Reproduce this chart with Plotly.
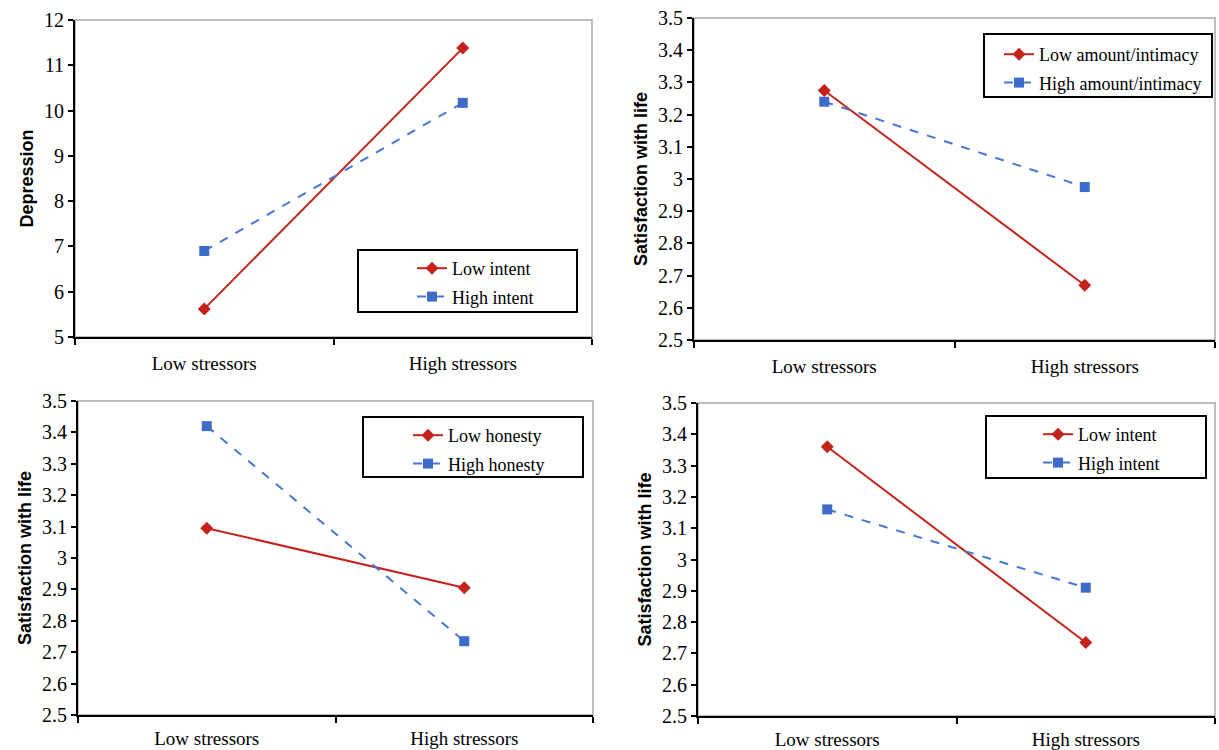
import plotly.graph_objects as go

W, H = 1219, 750

# ---------------- data ----------------
categories = ["Low stressors", "High stressors"]

p1_low_intent = [5.62, 11.38]
p1_high_intent = [6.90, 10.17]

p2_low_amount = [3.275, 2.67]
p2_high_amount = [3.24, 2.975]

p3_low_honesty = [3.095, 2.905]
p3_high_honesty = [3.42, 2.735]

p4_low_intent = [3.36, 2.735]
p4_high_intent = [3.16, 2.91]

dep_ticks = [5, 6, 7, 8, 9, 10, 11, 12]
swl_ticks = [2.5, 2.6, 2.7, 2.8, 2.9, 3.0, 3.1, 3.2, 3.3, 3.4, 3.5]
swl_ticktext = ["2.5", "2.6", "2.7", "2.8", "2.9", "3", "3.1", "3.2", "3.3", "3.4", "3.5"]

# ---------------- styling ----------------
RED = "#C4221B"
BLUE = "#4677D4"
BLUE_M = "#3E6BC8"
SERIF = "Liberation Serif, Times New Roman, serif"
SANS = "Liberation Sans, Arial, sans-serif"

# panel pixel boxes: (left, right, top, bottom)
panels = [
    (75, 592, 20, 337),
    (694, 1215, 18, 340),
    (78, 593, 401, 715),
    (698, 1215, 403, 716),
]

def px_x(v):
    return v / W

def px_y(v):
    return 1 - v / H

series = [
    ("Low intent", p1_low_intent, "High intent", p1_high_intent),
    ("Low amount/intimacy", p2_low_amount, "High amount/intimacy", p2_high_amount),
    ("Low honesty", p3_low_honesty, "High honesty", p3_high_honesty),
    ("Low intent", p4_low_intent, "High intent", p4_high_intent),
]

ytitles = ["Depression", "Satisfaction with life", "Satisfaction with life", "Satisfaction with life"]

# legend: (box left, box right, box top, box bottom, text start x, first item center y)
legends = [
    (358, 577, 250, 312, 452, 267),
    (984, 1212, 34, 97, 1039, 53),
    (363, 583, 417, 477, 448, 434),
    (986, 1206, 416, 478, 1078, 433),
]

fig = go.Figure()
shapes = []
layout = {}

for i, (p, s, yt, lg) in enumerate(zip(panels, series, ytitles, legends)):
    n = "" if i == 0 else str(i + 1)
    xa, ya = "x" + n, "y" + n
    lname = "legend" + n
    low_name, low_vals, high_name, high_vals = s
    fig.add_trace(go.Scatter(
        x=categories, y=low_vals, name=low_name, mode="lines+markers",
        line=dict(color=RED, width=2),
        marker=dict(symbol="diamond", size=10, color=RED),
        xaxis=xa, yaxis=ya, legend=lname, legendgroup=lname + "a",
    ))
    fig.add_trace(go.Scatter(
        x=categories, y=high_vals, name=high_name, mode="lines+markers",
        line=dict(color=BLUE, width=2, dash="dash"),
        marker=dict(symbol="square", size=10, color=BLUE_M),
        xaxis=xa, yaxis=ya, legend=lname, legendgroup=lname + "b",
    ))
    l, r, t, b = p
    if i == 0:
        yrange = [5, 12]
        tv, tt = dep_ticks, [str(v) for v in dep_ticks]
    else:
        yrange = [2.5, 3.5]
        tv, tt = swl_ticks, swl_ticktext
    layout["xaxis" + n] = dict(
        domain=[px_x(l), px_x(r)], anchor=ya, type="category",
        range=[-0.5, 1.5], tickson="boundaries", ticks="outside",
        ticklen=6, tickwidth=2, tickcolor="black",
        showline=True, linecolor="black", linewidth=2,
        showgrid=False, zeroline=False, automargin=False,
        tickfont=dict(family=SERIF, size=19, color="black"),
        ticklabelstandoff=8 if i < 2 else 5,
    )
    layout["yaxis" + n] = dict(
        domain=[px_y(b), px_y(t)], anchor=xa, range=yrange,
        tickvals=tv, ticktext=tt, ticks="outside", ticklen=5,
        tickwidth=1.5, tickcolor="black", automargin=False,
        showline=True, linecolor="black", linewidth=2,
        showgrid=False, zeroline=False,
        tickfont=dict(family=SERIF, size=20, color="black"),
        title=dict(text=yt, font=dict(family=SANS, size=18, color="black", weight="bold"), standoff=6),
    )
    # gray frame (top/right)
    shapes.append(dict(type="rect", xref=xa + " domain", yref=ya + " domain",
                       x0=0, x1=1, y0=0, y1=1, line=dict(color="#BDBDBD", width=2),
                       layer="below"))
    bl, br, bt, bb, tx, iy = lg
    shapes.append(dict(type="rect", xref="paper", yref="paper",
                       x0=px_x(bl), x1=px_x(br), y0=px_y(bb), y1=px_y(bt),
                       line=dict(color="black", width=2), fillcolor="rgba(0,0,0,0)"))
    layout[lname] = dict(
        x=px_x(tx - 40), y=px_y(iy - 17), xanchor="left", yanchor="top",
        bgcolor="rgba(0,0,0,0)", borderwidth=0,
        font=dict(family=SERIF, size=18, color="black"),
        tracegroupgap=2, traceorder="grouped",
    )

fig.update_layout(
    width=W, height=H,
    margin=dict(l=0, r=0, t=0, b=0, autoexpand=False),
    paper_bgcolor="white", plot_bgcolor="white",
    showlegend=True,
    shapes=shapes,
    **layout,
)

fig.write_html("out.html", config={"displayModeBar": False},
               post_script="document.body.style.margin='0';")
